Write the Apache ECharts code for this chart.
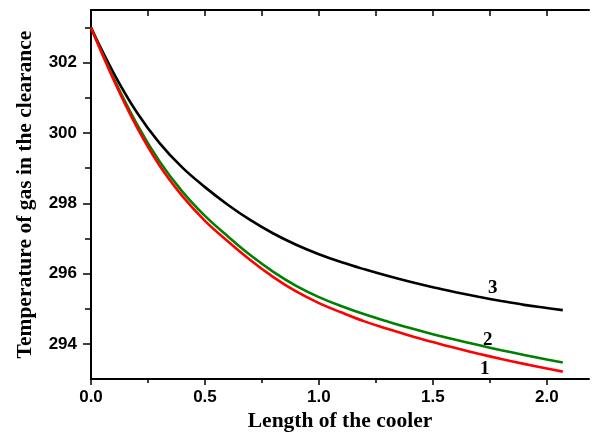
<!DOCTYPE html>
<html>
<head>
<meta charset="utf-8">
<script src="https://cdn.jsdelivr.net/npm/echarts@6/dist/echarts.min.js"></script>
<style>
  html, body { margin: 0; padding: 0; background: #fff; }
  #chart { width: 598px; height: 438px; }
</style>
</head>
<body>
<div id="chart"></div>
<script>
var myChart = echarts.init(document.getElementById('chart'));

// length of the cooler
var lengthX = [0, 0.1, 0.2, 0.3, 0.4, 0.5, 0.6, 0.7, 0.8, 0.9, 1.0,
  1.1, 1.2, 1.3, 1.4, 1.5, 1.6, 1.7, 1.8, 1.9, 2.0, 2.07];

// temperature of gas, curves 1 (red), 2 (green), 3 (black)
var temp1 = [303, 301.5, 300.18, 299.08, 298.21, 297.5, 296.92, 296.38, 295.9, 295.49, 295.16,
  294.89, 294.64, 294.43, 294.23, 294.05, 293.88, 293.72, 293.57, 293.43, 293.3, 293.21];
var temp2 = [303, 301.55, 300.27, 299.2, 298.34, 297.64, 297.06, 296.52, 296.05, 295.65, 295.33,
  295.07, 294.84, 294.64, 294.45, 294.275, 294.115, 293.965, 293.82, 293.685, 293.555, 293.47];
var temp3 = [303, 301.7, 300.6, 299.72, 299.02, 298.46, 297.96, 297.52, 297.14, 296.82, 296.55,
  296.32, 296.12, 295.935, 295.765, 295.61, 295.47, 295.34, 295.22, 295.11, 295.02, 294.96];

// curve numbers: [x, T, text]
var curveLabels = [
  [1.728, 293.29, '1'],
  [1.741, 294.11, '2'],
  [1.763, 295.59, '3']
];

var xTicks = [0, 0.5, 1.0, 1.5, 2.0];
var xMinorTicks = [0.25, 0.75, 1.25, 1.75];
var xAllTicks = [0, 0.25, 0.5, 0.75, 1.0, 1.25, 1.5, 1.75, 2.0];
var yTicks = [294, 296, 298, 300, 302];
var yMinorTicks = [295, 297, 299, 301, 303];
var yAllTicks = [294, 295, 296, 297, 298, 299, 300, 301, 302, 303];

var xMin = 0, xMax = 2.185, yMin = 293, yMax = 303.5;

function pairs(ys) {
  return lengthX.map(function (x, i) { return [x, ys[i]]; });
}

var frame = { show: true, lineStyle: { color: '#000', width: 2 } };
var tickFont = { fontFamily: 'Liberation Sans', fontWeight: 'bold', fontSize: 17, color: '#000' };
var titleFont = { fontFamily: 'Liberation Serif', fontWeight: 'bold', fontSize: 21.5, color: '#000' };

option = {
  backgroundColor: '#fff',
  animation: false,
  grid: { left: 91, right: 9, top: 10, bottom: 59 },
  xAxis: [
    {
      type: 'value', position: 'bottom', min: xMin, max: xMax,
      name: 'Length of the cooler', nameLocation: 'middle', nameGap: 25,
      nameTextStyle: titleFont,
      axisLine: frame,
      axisTick: { show: true, length: 6, customValues: xTicks, lineStyle: { color: '#000', width: 1.5 } },
      axisLabel: Object.assign({ margin: 10, customValues: xTicks,
        formatter: function (v) { return v.toFixed(1); } }, tickFont),
      splitLine: { show: false }
    },
    {
      type: 'value', position: 'bottom', min: xMin, max: xMax,
      axisLine: { show: false },
      axisTick: { show: true, length: 4, customValues: xMinorTicks, lineStyle: { color: '#000', width: 1.5 } },
      axisLabel: { show: false },
      splitLine: { show: false }
    },
    {
      type: 'value', position: 'top', min: xMin, max: xMax,
      axisLine: frame,
      axisTick: { show: true, inside: true, length: 6, customValues: xAllTicks, lineStyle: { color: '#000', width: 1.5 } },
      axisLabel: { show: false },
      splitLine: { show: false }
    }
  ],
  yAxis: [
    {
      type: 'value', position: 'left', min: yMin, max: yMax,
      name: 'Temperature of gas in the clearance', nameLocation: 'middle', nameGap: 55,
      nameRotate: 90, nameTextStyle: titleFont,
      axisLine: frame,
      axisTick: { show: true, length: 8, customValues: yTicks, lineStyle: { color: '#000', width: 1.5 } },
      axisLabel: Object.assign({ margin: 14, customValues: yTicks }, tickFont),
      splitLine: { show: false }
    },
    {
      type: 'value', position: 'left', min: yMin, max: yMax,
      axisLine: { show: false },
      axisTick: { show: true, length: 4, customValues: yMinorTicks, lineStyle: { color: '#000', width: 1.5 } },
      axisLabel: { show: false },
      splitLine: { show: false }
    },
    {
      type: 'value', position: 'right', min: yMin, max: yMax,
      axisLine: frame,
      axisTick: { show: true, inside: true, length: 6, customValues: yAllTicks, lineStyle: { color: '#000', width: 1.5 } },
      axisLabel: { show: false },
      splitLine: { show: false }
    }
  ],
  series: [
    {
      name: '3', type: 'line', data: pairs(temp3), smooth: 0.4, symbol: 'none',
      lineStyle: { color: '#000000', width: 2.6 }
    },
    {
      name: '2', type: 'line', data: pairs(temp2), smooth: 0.4, symbol: 'none',
      lineStyle: { color: '#008000', width: 2.6 }
    },
    {
      name: '1', type: 'line', data: pairs(temp1), smooth: 0.4, symbol: 'none',
      lineStyle: { color: '#ff0000', width: 2.6 },
      markPoint: {
        symbol: 'circle', symbolSize: 0, silent: true,
        label: {
          show: true, position: 'inside',
          formatter: function (p) { return p.name; },
          fontFamily: 'Liberation Serif', fontWeight: 'bold', fontSize: 19, color: '#000'
        },
        data: curveLabels.map(function (c) { return { name: c[2], coord: [c[0], c[1]] }; })
      }
    }
  ]
};
myChart.setOption(option);
</script>
</body>
</html>
